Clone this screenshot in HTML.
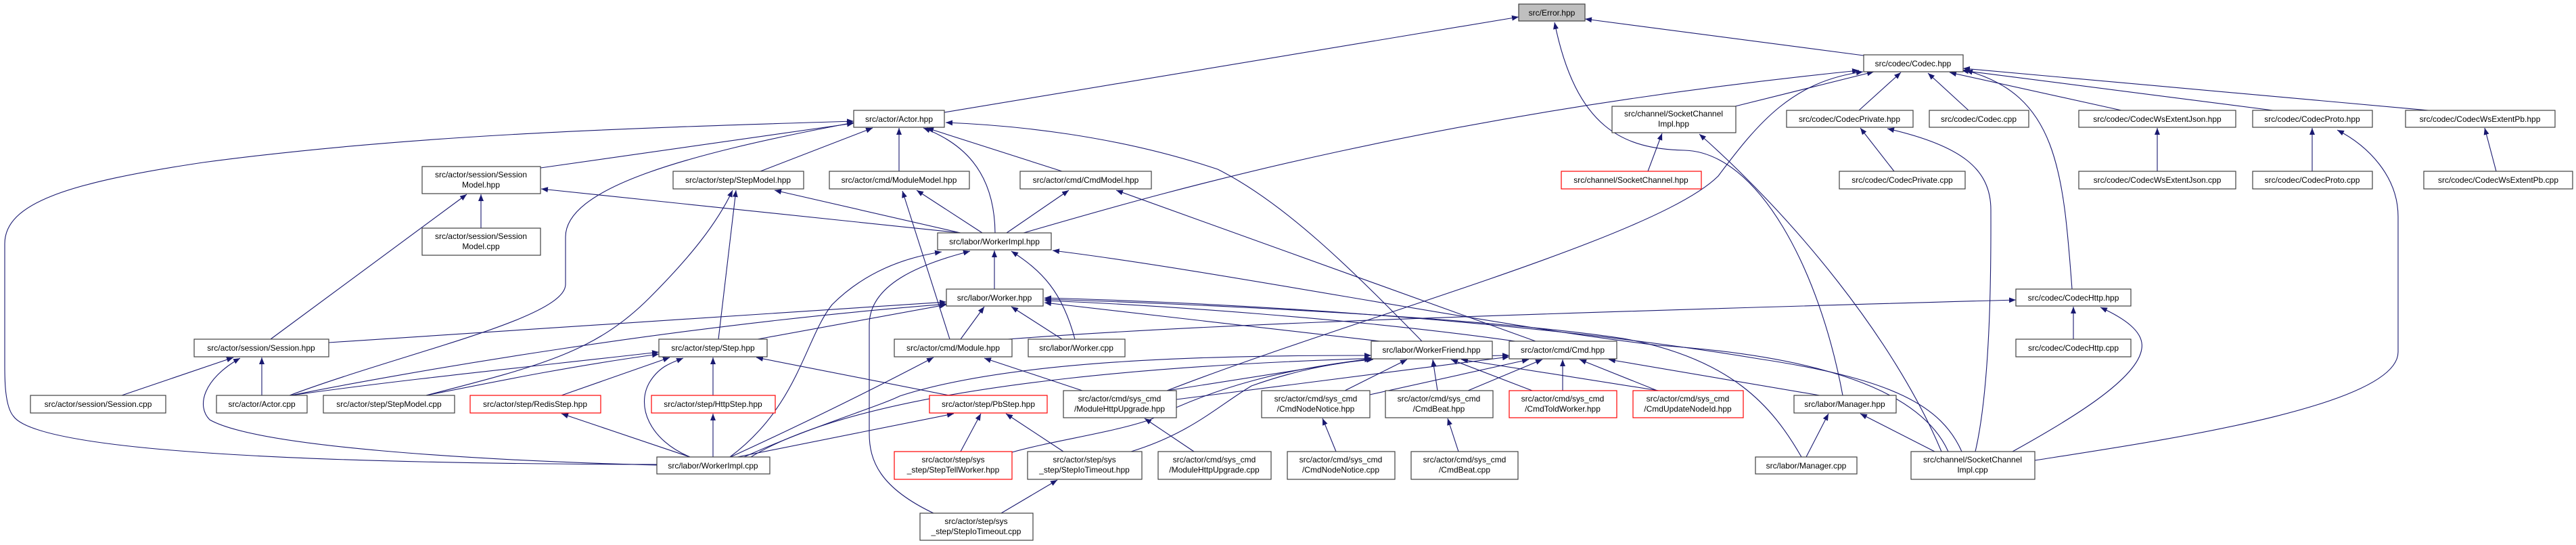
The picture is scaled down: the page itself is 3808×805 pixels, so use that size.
<!DOCTYPE html>
<html><head><meta charset="utf-8"><style>
html,body{margin:0;padding:0;background:#fff;}
svg{display:block;}
text{font-family:"Liberation Sans",sans-serif;font-size:12px;fill:#000;text-anchor:middle;}
.n{fill:#fff;stroke:#404040;stroke-width:1.2;}
.r{fill:#fff;stroke:#ff0000;stroke-width:1.2;}
.g{fill:#bfbfbf;stroke:#404040;stroke-width:1.2;}
path.e{fill:none;stroke:#191970;stroke-width:1.1;marker-end:url(#a);}
</style></head><body>
<svg width="3808" height="805" viewBox="0 0 3808 805" xmlns="http://www.w3.org/2000/svg">
<defs><marker id="a" markerUnits="userSpaceOnUse" markerWidth="11" markerHeight="8" refX="10" refY="4" orient="auto"><path d="M0,0 L10,4 L0,8 z" fill="#191970"/></marker></defs>
<g>
<path class="e" d="M1396,166 L2245,25"/>
<path class="e" d="M2755,82 L2343,28"/>
<path class="e" d="M2724,584 C2690,400 2600,225 2490,222 C2400,220 2330,190 2298,33"/>
<path class="e" d="M2565,157 L2770,106"/>
<path class="e" d="M2748,163 L2810,107"/>
<path class="e" d="M2910,163 L2850,108"/>
<path class="e" d="M3136,163 L2882,107"/>
<path class="e" d="M3360,163 L2900,104"/>
<path class="e" d="M3590,163 L2902,101"/>
<path class="e" d="M3063,427 C3050,250 3040,140 2906,104"/>
<path class="e" d="M1513,344 C1700,290 2100,170 2748,104"/>
<path class="e" d="M1725,577 C2000,470 2450,350 2540,260 C2600,180 2650,120 2754,106"/>
<path class="e" d="M2436,253 L2457,197"/>
<path class="e" d="M2870,667 C2800,500 2650,320 2512,198"/>
<path class="e" d="M2800,253 L2750,189"/>
<path class="e" d="M2920,667 C2945,560 2943,360 2943,310 C2943,250 2900,215 2790,190"/>
<path class="e" d="M3189,253 L3189,189"/>
<path class="e" d="M3418,253 L3418,189"/>
<path class="e" d="M3690,253 L3673,189"/>
<path class="e" d="M3008,680 C3200,650 3545,600 3545,520 L3545,320 C3545,260 3500,215 3455,192"/>
<path class="e" d="M3065,501 L3065,453"/>
<path class="e" d="M2975,667 C3060,620 3160,560 3166,515 C3170,490 3140,470 3105,454"/>
<path class="e" d="M1490,501 C1700,485 2000,470 2980,443"/>
<path class="e" d="M799,248 L1262,182"/>
<path class="e" d="M428,584 C600,520 836,470 836,420 L836,350 C836,280 1000,230 1262,181"/>
<path class="e" d="M971,686 C500,685 60,670 20,615 C7,600 7,560 7,540 L7,360 C7,300 100,270 300,240 C600,200 900,190 1262,179"/>
<path class="e" d="M1124,253 L1290,189"/>
<path class="e" d="M1329,253 L1329,189"/>
<path class="e" d="M1570,253 L1370,189"/>
<path class="e" d="M1471,344 C1470,250 1420,210 1365,189"/>
<path class="e" d="M2102,504 C2000,400 1900,300 1800,250 C1650,200 1500,185 1398,181"/>
<path class="e" d="M711,337 L711,287"/>
<path class="e" d="M400,501 L690,287"/>
<path class="e" d="M1420,344 L800,279"/>
<path class="e" d="M1420,344 L1145,281"/>
<path class="e" d="M1062,501 L1088,281"/>
<path class="e" d="M630,584 C800,540 880,520 960,440 C1020,380 1060,330 1083,281"/>
<path class="e" d="M1452,344 L1355,281"/>
<path class="e" d="M1404,501 L1334,282"/>
<path class="e" d="M1488,344 L1580,281"/>
<path class="e" d="M2270,504 L1650,281"/>
<path class="e" d="M1470,427 L1470,370"/>
<path class="e" d="M1079,675 C1180,600 1190,500 1230,450 C1280,400 1340,380 1392,372"/>
<path class="e" d="M1380,758 C1300,720 1285,680 1285,640 L1285,480 C1285,420 1360,390 1434,371"/>
<path class="e" d="M1589,501 C1570,430 1540,400 1495,371"/>
<path class="e" d="M2880,667 C2850,600 2750,530 2450,510 C2200,480 1800,400 1556,370"/>
<path class="e" d="M486,506 L1399,446"/>
<path class="e" d="M1120,501 L1399,450"/>
<path class="e" d="M1420,501 L1455,453"/>
<path class="e" d="M1570,501 L1495,453"/>
<path class="e" d="M430,584 C600,550 1000,480 1400,449"/>
<path class="e" d="M2040,504 L1544,447"/>
<path class="e" d="M2240,504 C2000,470 1700,450 1544,444"/>
<path class="e" d="M2663,675 C2620,600 2560,530 2400,500 C2200,470 1800,450 1544,442"/>
<path class="e" d="M2900,667 C2870,600 2800,560 2600,530 C2300,480 1900,450 1544,440"/>
<path class="e" d="M180,584 L345,528"/>
<path class="e" d="M387,584 L387,528"/>
<path class="e" d="M971,687 C700,680 380,660 310,620 C290,600 300,560 355,529"/>
<path class="e" d="M430,584 C600,560 800,540 974,520"/>
<path class="e" d="M630,584 C750,560 850,540 974,523"/>
<path class="e" d="M830,584 L990,528"/>
<path class="e" d="M1054,584 L1054,528"/>
<path class="e" d="M1403,584 L1118,528"/>
<path class="e" d="M1020,675 C960,650 940,600 960,565 C975,540 995,535 1010,529"/>
<path class="e" d="M1080,675 C1200,620 1300,570 1380,528"/>
<path class="e" d="M1600,577 L1455,529"/>
<path class="e" d="M1054,675 L1054,611"/>
<path class="e" d="M1020,675 L830,611"/>
<path class="e" d="M1090,675 L1410,611"/>
<path class="e" d="M1420,667 L1450,611"/>
<path class="e" d="M1572,667 L1487,611"/>
<path class="e" d="M1480,758 L1563,709"/>
<path class="e" d="M1765,667 L1692,618"/>
<path class="e" d="M1988,577 L2080,531"/>
<path class="e" d="M2125,577 L2118,531"/>
<path class="e" d="M2265,577 L2145,531"/>
<path class="e" d="M2452,577 L2160,531"/>
<path class="e" d="M1496,668 C1560,650 1640,640 1700,620 C1800,570 1900,545 2027,530"/>
<path class="e" d="M1672,667 C1760,640 1800,600 1850,570 C1920,545 1980,535 2030,531"/>
<path class="e" d="M1100,675 C1200,630 1300,600 1330,585 C1500,530 1800,525 2027,525"/>
<path class="e" d="M1725,577 L2030,529"/>
<path class="e" d="M2025,583 L2260,531"/>
<path class="e" d="M2170,577 L2280,531"/>
<path class="e" d="M2310,577 L2310,531"/>
<path class="e" d="M2450,577 L2335,531"/>
<path class="e" d="M2690,584 L2378,531"/>
<path class="e" d="M1739,590 L2231,527"/>
<path class="e" d="M1110,675 C1300,560 1800,530 2231,525"/>
<path class="e" d="M1975,667 L1955,618"/>
<path class="e" d="M2156,667 L2140,618"/>
<path class="e" d="M2670,675 L2703,611"/>
<path class="e" d="M2860,667 L2750,611"/>
</g>
<g>
<rect class="g" x="2245" y="6" width="98" height="25"/><text x="2294" y="23">src/Error.hpp</text>
<rect class="n" x="2755" y="81" width="147" height="25"/><text x="2828" y="98">src/codec/Codec.hpp</text>
<rect class="n" x="2383" y="157" width="183" height="39"/><text x="2474" y="172">src/channel/SocketChannel</text><text x="2474" y="187">Impl.hpp</text>
<rect class="n" x="2641" y="163" width="187" height="25"/><text x="2734" y="180">src/codec/CodecPrivate.hpp</text>
<rect class="n" x="2852" y="163" width="147" height="25"/><text x="2925" y="180">src/codec/Codec.cpp</text>
<rect class="n" x="3073" y="163" width="232" height="25"/><text x="3189" y="180">src/codec/CodecWsExtentJson.hpp</text>
<rect class="n" x="3330" y="163" width="177" height="25"/><text x="3418" y="180">src/codec/CodecProto.hpp</text>
<rect class="n" x="3556" y="163" width="221" height="25"/><text x="3666" y="180">src/codec/CodecWsExtentPb.hpp</text>
<rect class="r" x="2308" y="253" width="207" height="26"/><text x="2411" y="270">src/channel/SocketChannel.hpp</text>
<rect class="n" x="2719" y="253" width="186" height="26"/><text x="2812" y="270">src/codec/CodecPrivate.cpp</text>
<rect class="n" x="3073" y="253" width="232" height="26"/><text x="3189" y="270">src/codec/CodecWsExtentJson.cpp</text>
<rect class="n" x="3330" y="253" width="177" height="26"/><text x="3418" y="270">src/codec/CodecProto.cpp</text>
<rect class="n" x="3583" y="253" width="220" height="26"/><text x="3693" y="270">src/codec/CodecWsExtentPb.cpp</text>
<rect class="n" x="2980" y="427" width="170" height="25"/><text x="3065" y="444">src/codec/CodecHttp.hpp</text>
<rect class="n" x="2980" y="501" width="170" height="26"/><text x="3065" y="518">src/codec/CodecHttp.cpp</text>
<rect class="n" x="1262" y="163" width="134" height="25"/><text x="1329" y="180">src/actor/Actor.hpp</text>
<rect class="n" x="624" y="246" width="175" height="40"/><text x="711" y="262">src/actor/session/Session</text><text x="711" y="277">Model.hpp</text>
<rect class="n" x="624" y="337" width="175" height="40"/><text x="711" y="353">src/actor/session/Session</text><text x="711" y="368">Model.cpp</text>
<rect class="n" x="995" y="253" width="193" height="26"/><text x="1091" y="270">src/actor/step/StepModel.hpp</text>
<rect class="n" x="1226" y="253" width="207" height="26"/><text x="1329" y="270">src/actor/cmd/ModuleModel.hpp</text>
<rect class="n" x="1508" y="253" width="194" height="26"/><text x="1605" y="270">src/actor/cmd/CmdModel.hpp</text>
<rect class="n" x="1386" y="344" width="168" height="25"/><text x="1470" y="361">src/labor/WorkerImpl.hpp</text>
<rect class="n" x="1399" y="427" width="143" height="25"/><text x="1470" y="444">src/labor/Worker.hpp</text>
<rect class="n" x="287" y="501" width="199" height="26"/><text x="386" y="518">src/actor/session/Session.hpp</text>
<rect class="n" x="974" y="501" width="160" height="26"/><text x="1054" y="518">src/actor/step/Step.hpp</text>
<rect class="n" x="1322" y="501" width="174" height="26"/><text x="1409" y="518">src/actor/cmd/Module.hpp</text>
<rect class="n" x="1520" y="501" width="143" height="26"/><text x="1591" y="518">src/labor/Worker.cpp</text>
<rect class="n" x="2027" y="504" width="179" height="26"/><text x="2116" y="521">src/labor/WorkerFriend.hpp</text>
<rect class="n" x="2231" y="504" width="159" height="26"/><text x="2310" y="521">src/actor/cmd/Cmd.hpp</text>
<rect class="n" x="45" y="584" width="200" height="26"/><text x="145" y="601">src/actor/session/Session.cpp</text>
<rect class="n" x="320" y="584" width="134" height="26"/><text x="387" y="601">src/actor/Actor.cpp</text>
<rect class="n" x="478" y="584" width="194" height="26"/><text x="575" y="601">src/actor/step/StepModel.cpp</text>
<rect class="r" x="695" y="584" width="193" height="26"/><text x="791" y="601">src/actor/step/RedisStep.hpp</text>
<rect class="r" x="963" y="584" width="183" height="26"/><text x="1054" y="601">src/actor/step/HttpStep.hpp</text>
<rect class="r" x="1374" y="584" width="174" height="26"/><text x="1461" y="601">src/actor/step/PbStep.hpp</text>
<rect class="n" x="1572" y="577" width="167" height="40"/><text x="1655" y="593">src/actor/cmd/sys_cmd</text><text x="1655" y="608">/ModuleHttpUpgrade.hpp</text>
<rect class="n" x="1865" y="577" width="160" height="40"/><text x="1945" y="593">src/actor/cmd/sys_cmd</text><text x="1945" y="608">/CmdNodeNotice.hpp</text>
<rect class="n" x="2048" y="577" width="159" height="40"/><text x="2127" y="593">src/actor/cmd/sys_cmd</text><text x="2127" y="608">/CmdBeat.hpp</text>
<rect class="r" x="2231" y="577" width="159" height="40"/><text x="2310" y="593">src/actor/cmd/sys_cmd</text><text x="2310" y="608">/CmdToldWorker.hpp</text>
<rect class="r" x="2414" y="577" width="163" height="40"/><text x="2495" y="593">src/actor/cmd/sys_cmd</text><text x="2495" y="608">/CmdUpdateNodeId.hpp</text>
<rect class="n" x="2652" y="584" width="151" height="26"/><text x="2727" y="601">src/labor/Manager.hpp</text>
<rect class="n" x="971" y="675" width="167" height="25"/><text x="1054" y="692">src/labor/WorkerImpl.cpp</text>
<rect class="r" x="1322" y="667" width="174" height="41"/><text x="1409" y="683">src/actor/step/sys</text><text x="1409" y="698">_step/StepTellWorker.hpp</text>
<rect class="n" x="1519" y="667" width="169" height="41"/><text x="1603" y="683">src/actor/step/sys</text><text x="1603" y="698">_step/StepIoTimeout.hpp</text>
<rect class="n" x="1712" y="667" width="167" height="41"/><text x="1795" y="683">src/actor/cmd/sys_cmd</text><text x="1795" y="698">/ModuleHttpUpgrade.cpp</text>
<rect class="n" x="1903" y="667" width="159" height="41"/><text x="1982" y="683">src/actor/cmd/sys_cmd</text><text x="1982" y="698">/CmdNodeNotice.cpp</text>
<rect class="n" x="2086" y="667" width="158" height="41"/><text x="2165" y="683">src/actor/cmd/sys_cmd</text><text x="2165" y="698">/CmdBeat.cpp</text>
<rect class="n" x="2595" y="675" width="150" height="25"/><text x="2670" y="692">src/labor/Manager.cpp</text>
<rect class="n" x="2825" y="667" width="183" height="41"/><text x="2916" y="683">src/channel/SocketChannel</text><text x="2916" y="698">Impl.cpp</text>
<rect class="n" x="1360" y="758" width="167" height="40"/><text x="1443" y="774">src/actor/step/sys</text><text x="1443" y="789">_step/StepIoTimeout.cpp</text>
</g>
</svg>
</body></html>
